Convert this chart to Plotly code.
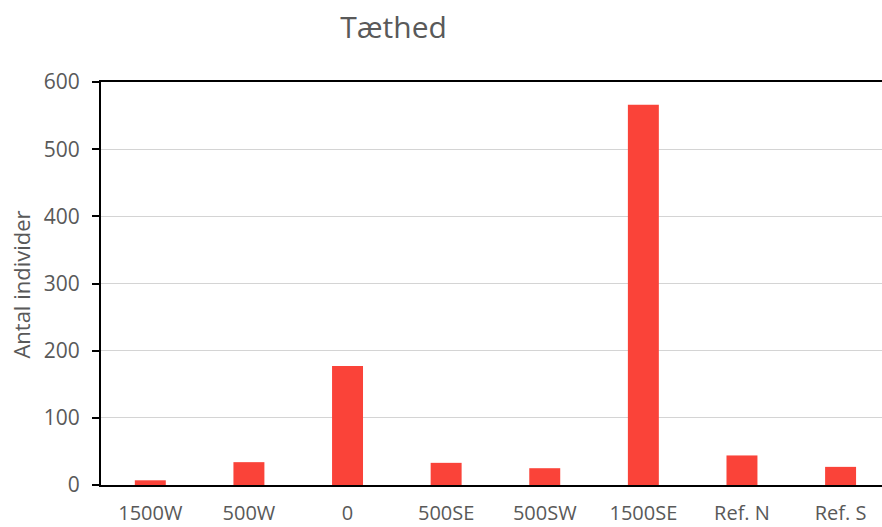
import plotly.graph_objects as go

# Tæthed pr. lokalitet
lokaliteter = ["1500W", "500W", "0", "500SE", "500SW", "1500SE", "Ref. N", "Ref. S"]
antal = [7, 34, 177, 33, 25, 566, 44, 27]

y_ticks = [0, 100, 200, 300, 400, 500, 600]

W, H = 882, 527
left, top, bottom = 101, 82, 42
grey = "#595959"
font = "Open Sans"

fig = go.Figure(
    go.Bar(
        x=list(range(len(lokaliteter))),
        y=antal,
        marker=dict(color="#FA4339", line=dict(width=0)),
        hoverinfo="x+y",
    )
)

fig.update_layout(
    width=W,
    height=H,
    margin=dict(l=left, r=0, t=top, b=bottom, pad=0),
    paper_bgcolor="white",
    plot_bgcolor="white",
    bargap=0.686,
    showlegend=False,
    font=dict(family=font, color=grey),
    title=dict(
        text="Tæthed",
        font=dict(family=font, size=30, color=grey),
        xref="container", yref="container",
        x=393.5 / W, y=1 - 27 / H,
        xanchor="center", yanchor="middle",
    ),
    xaxis=dict(
        tickmode="array",
        tickvals=list(range(len(lokaliteter))),
        ticktext=lokaliteter,
        range=[-0.5, 7.42],
        showline=True, linecolor="black", linewidth=2, mirror=True,
        showgrid=False, zeroline=False,
        ticks="",
        tickfont=dict(family=font, size=20, color=grey),
        ticklabelstandoff=9,
        automargin=False,
    ),
    yaxis=dict(
        range=[0, 600],
        tickvals=y_ticks,
        showline=True, linecolor="black", linewidth=2,
        showgrid=True, gridcolor="#D4D4D4", gridwidth=1,
        zeroline=False,
        ticks="outside", ticklen=7, tickwidth=2, tickcolor="black",
        tickfont=dict(family=font, size=21, color=grey),
        ticklabelstandoff=8,
        automargin=False,
    ),
    annotations=[
        dict(
            text="Antal individer",
            textangle=-90,
            xref="paper", yref="paper",
            x=(21 - left) / (W - left), y=(H - bottom - 284.6) / (H - top - bottom),
            xanchor="center", yanchor="middle",
            showarrow=False,
            font=dict(family=font, size=22, color=grey),
        )
    ],
)

fig.write_html("out.html")
